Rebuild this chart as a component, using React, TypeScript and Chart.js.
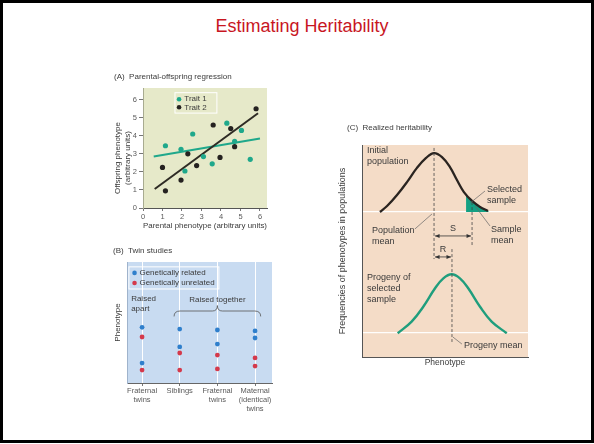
import React, { useEffect, useRef } from "react";
import { Chart, registerables } from "chart.js";

Chart.register(...registerables);

const FONT = "'Liberation Sans', Arial, Helvetica, sans-serif";
Chart.defaults.font.family = FONT;

const TEXT = "#3a3a3a";
const TICK = "#5a5a5a";
const TEAL = "#1fa88b";
const DARK = "#252220";

// (A) parental-offspring regression
const ticksA = [0, 1, 2, 3, 4, 5, 6];
const trait1Parent = [1.15, 1.95, 2.15, 2.55, 3.1, 3.55, 4.3, 4.7, 5.05, 5.5];
const trait1Offspring = [3.45, 3.25, 2.05, 4.1, 2.85, 2.45, 4.7, 3.7, 4.3, 2.7];
const trait2Parent = [1.0, 1.15, 1.95, 2.3, 2.75, 3.6, 3.95, 4.5, 4.7, 5.8];
const trait2Offspring = [2.25, 0.95, 1.55, 3.0, 2.35, 4.6, 2.8, 4.4, 3.4, 5.5];
const trait1FitX = [0.55, 6.0];
const trait1FitY = [2.85, 3.85];
const trait2FitX = [0.6, 5.9];
const trait2FitY = [1.05, 5.25];

// (B) twin studies
const twinGroups = [["Fraternal", "twins"], "Siblings", ["Fraternal", "twins"], ["Maternal", "(identical)", "twins"]];
const relatedFirst = [4.6, 4.46, 4.38, 4.3];
const relatedSecond = [1.65, 2.98, 3.22, 3.72];
const unrelatedFirst = [3.8, 2.48, 2.31, 2.07];
const unrelatedSecond = [1.07, 1.07, 1.16, 1.4];

// (C) realized heritability
const initialX = [10.8, 15.1, 21.1, 27.1, 33.1, 38.6, 43.4, 48.2, 53.0, 57.2, 61.4, 66.3, 71.1, 75.9];
const initialY = [68.4, 71.2, 76.4, 82.5, 89.2, 93.9, 96.2, 94.3, 89.6, 83.5, 77.8, 73.6, 70.8, 68.9];
const selectedX = [62.7, 66.3, 71.1, 75.9, 76.5];
const selectedY = [76.3, 73.6, 70.8, 68.9, 68.4];
const progenyX = [21.5, 29.9, 36.9, 44.0, 49.0, 54.0, 59.0, 64.0, 71.1, 78.1, 87.2];
const progenyY = [11.2, 16.7, 23.7, 32.4, 37.1, 39.0, 37.1, 32.4, 23.7, 16.7, 11.2];
const baselines = [11.3, 68.4];
const populationMean = 43.4;
const sampleMean = 66.3;
const progenyMean = 54.2;

const pts = (xs: number[], ys: number[]) => xs.map((x, i) => ({ x, y: ys[i] }));

type Pt = [number, number];
type Label = {
  t: string[];
  x: number;
  y: number;
  px?: boolean;
  align?: CanvasTextAlign;
  size?: number;
  rot?: boolean;
  lh?: number;
};
type Seg = { pts: Pt[]; dash?: number[]; color?: string; width?: number; heads?: boolean };
type Deco = {
  bg: string;
  labels?: Label[];
  segs?: Seg[];
  boxes?: { x0: number; y0: number; x1: number; y1: number }[];
  dots?: { x: number; y: number; color: string }[];
  brace?: { x0: number; x1: number; bottom: number; top: number; tip: number };
};

function decoPlugin(d: Deco) {
  return {
    id: "deco",
    beforeDraw(chart: Chart) {
      const { ctx, chartArea: a } = chart;
      ctx.save();
      ctx.fillStyle = d.bg;
      ctx.fillRect(a.left, a.top, a.right - a.left, a.bottom - a.top);
      ctx.restore();
    },
    afterDraw(chart: Chart) {
      const { ctx } = chart;
      const X = (v: number) => chart.scales.x.getPixelForValue(v);
      const Y = (v: number) => chart.scales.y.getPixelForValue(v);
      ctx.save();

      for (const b of d.boxes ?? []) {
        ctx.strokeStyle = "#ffffff";
        ctx.lineWidth = 1;
        ctx.strokeRect(X(b.x0), Y(b.y0), X(b.x1) - X(b.x0), Y(b.y1) - Y(b.y0));
      }

      const head = (from: Pt, to: Pt) => {
        const ang = Math.atan2(to[1] - from[1], to[0] - from[0]);
        ctx.beginPath();
        ctx.moveTo(to[0], to[1]);
        ctx.lineTo(to[0] - 4.5 * Math.cos(ang) + 2 * Math.sin(ang), to[1] - 4.5 * Math.sin(ang) - 2 * Math.cos(ang));
        ctx.lineTo(to[0] - 4.5 * Math.cos(ang) - 2 * Math.sin(ang), to[1] - 4.5 * Math.sin(ang) + 2 * Math.cos(ang));
        ctx.closePath();
        ctx.fill();
      };

      for (const s of d.segs ?? []) {
        const p = s.pts.map(([x, y]) => [X(x), Y(y)] as Pt);
        ctx.strokeStyle = s.color ?? "#444";
        ctx.fillStyle = s.color ?? "#444";
        ctx.lineWidth = s.width ?? 0.8;
        ctx.setLineDash(s.dash ?? []);
        ctx.beginPath();
        p.forEach(([x, y], i) => (i ? ctx.lineTo(x, y) : ctx.moveTo(x, y)));
        ctx.stroke();
        ctx.setLineDash([]);
        if (s.heads) {
          head(p[1], p[0]);
          head(p[0], p[1]);
        }
      }

      if (d.brace) {
        const b = d.brace;
        const L = X(b.x0), R = X(b.x1), M = (L + R) / 2;
        const B = Y(b.bottom), T = Y(b.top), Tip = Y(b.tip);
        ctx.strokeStyle = "#555";
        ctx.lineWidth = 0.8;
        ctx.beginPath();
        ctx.moveTo(L, B);
        ctx.quadraticCurveTo(L, T, L + 6, T);
        ctx.lineTo(M - 5, T);
        ctx.quadraticCurveTo(M, T, M, Tip);
        ctx.quadraticCurveTo(M, T, M + 5, T);
        ctx.lineTo(R - 6, T);
        ctx.quadraticCurveTo(R, T, R, B);
        ctx.stroke();
      }

      for (const dot of d.dots ?? []) {
        ctx.fillStyle = dot.color;
        ctx.beginPath();
        ctx.arc(X(dot.x), Y(dot.y), 2.3, 0, Math.PI * 2);
        ctx.fill();
      }

      ctx.fillStyle = TEXT;
      ctx.textBaseline = "middle";
      for (const l of d.labels ?? []) {
        const size = l.size ?? 8;
        const lh = l.lh ?? size * 1.25;
        ctx.font = `${size}px ${FONT}`;
        ctx.textAlign = l.align ?? "left";
        const x = l.px ? l.x : X(l.x);
        const y = l.px ? l.y : Y(l.y);
        ctx.save();
        ctx.translate(x, y);
        if (l.rot) ctx.rotate(-Math.PI / 2);
        l.t.forEach((line, i) => ctx.fillText(line, 0, i * lh));
        ctx.restore();
      }
      ctx.restore();
    },
  };
}

const base = {
  responsive: false,
  maintainAspectRatio: false,
  animation: false as const,
  events: [] as string[],
  plugins: { legend: { display: false }, tooltip: { enabled: false } },
};

function configA() {
  return {
    type: "scatter" as const,
    data: {
      datasets: [
        { data: pts(trait1Parent, trait1Offspring), backgroundColor: TEAL, borderWidth: 0, pointRadius: 2.6 },
        { data: pts(trait2Parent, trait2Offspring), backgroundColor: DARK, borderWidth: 0, pointRadius: 2.6 },
        { data: pts(trait2FitX, trait2FitY), showLine: true, borderColor: "#2e2b24", borderWidth: 2, pointRadius: 0 },
        { data: pts(trait1FitX, trait1FitY), showLine: true, borderColor: TEAL, borderWidth: 2, pointRadius: 0 },
      ],
    },
    options: {
      ...base,
      layout: { padding: { top: 20, right: 13, left: 0, bottom: 0 } },
      scales: {
        x: {
          type: "linear" as const,
          min: 0,
          max: 6.36,
          afterBuildTicks: (s: any) => { s.ticks = ticksA.map((value) => ({ value })); },
          afterFit: (s: any) => { s.height = 25; },
          grid: { drawOnChartArea: false, tickLength: 3, tickColor: "#777" },
          border: { color: "#555", width: 1 },
          ticks: { font: { size: 7.5 }, color: TICK, padding: 1, maxRotation: 0 },
          title: {
            display: true,
            text: "Parental phenotype (arbitrary units)",
            font: { size: 8 },
            color: TEXT,
            padding: { top: 0, bottom: 2 },
          },
        },
        y: {
          min: 0,
          max: 6.65,
          afterBuildTicks: (s: any) => { s.ticks = ticksA.map((value) => ({ value })); },
          afterFit: (s: any) => { s.width = 38; },
          grid: { drawOnChartArea: false, tickLength: 4, tickColor: "#777" },
          border: { color: "#a8ab90", width: 1 },
          ticks: { font: { size: 7.5 }, color: TICK, padding: 2 },
        },
      },
    },
    plugins: [
      decoPlugin({
        bg: "#e6e9c9",
        boxes: [{ x0: 1.64, y0: 6.39, x1: 3.79, y1: 5.26 }],
        dots: [
          { x: 1.85, y: 6.03, color: TEAL },
          { x: 1.85, y: 5.58, color: DARK },
        ],
        labels: [
          { t: ["(A)  Parental-offspring regression"], x: 9, y: 9, px: true },
          { t: ["Trait 1"], x: 2.12, y: 6.03 },
          { t: ["Trait 2"], x: 2.12, y: 5.58 },
          { t: ["Offspring phenotype", "(arbitrary units)"], x: 13, y: 90, px: true, rot: true, align: "center", lh: 9.5 },
        ],
      }),
    ],
  };
}

function configB() {
  const twinX = twinGroups.map((_, i) => i + 1);
  return {
    type: "scatter" as const,
    data: {
      datasets: [
        { data: pts(twinX, relatedFirst), backgroundColor: "#2f7fcc", borderWidth: 0, pointRadius: 2.4 },
        { data: pts(twinX, relatedSecond), backgroundColor: "#2f7fcc", borderWidth: 0, pointRadius: 2.4 },
        { data: pts(twinX, unrelatedFirst), backgroundColor: "#d4394b", borderWidth: 0, pointRadius: 2.4 },
        { data: pts(twinX, unrelatedSecond), backgroundColor: "#d4394b", borderWidth: 0, pointRadius: 2.4 },
      ],
    },
    options: {
      ...base,
      layout: { padding: { top: 24, right: 8, left: 0, bottom: 0 } },
      scales: {
        x: {
          type: "linear" as const,
          min: 0.6,
          max: 4.45,
          afterBuildTicks: (s: any) => { s.ticks = twinX.map((value) => ({ value })); },
          afterFit: (s: any) => { s.height = 45; },
          grid: { color: "#ffffff", lineWidth: 1, tickLength: 3, tickColor: "#777" },
          border: { color: "#666", width: 1 },
          ticks: {
            font: { size: 7.5 },
            color: TICK,
            padding: 0,
            maxRotation: 0,
            callback: (v: number) => twinGroups[Math.round(v) - 1],
          },
        },
        y: {
          min: 0,
          max: 10,
          afterFit: (s: any) => { s.width = 22; },
          grid: { display: false },
          border: { color: "#9fb3cc", width: 1 },
          ticks: { display: false },
          title: { display: true, text: "Phenotype", font: { size: 8 }, color: TEXT, padding: { top: 8, bottom: 0 } },
        },
      },
    },
    plugins: [
      decoPlugin({
        bg: "#c8dbf1",
        boxes: [{ x0: 0.65, y0: 9.6, x1: 3.04, y1: 7.77 }],
        dots: [
          { x: 0.8, y: 9.1, color: "#2f7fcc" },
          { x: 0.8, y: 8.27, color: "#d4394b" },
        ],
        brace: { x0: 1.85, x1: 4.15, bottom: 5.5, top: 5.95, tip: 6.4 },
        labels: [
          { t: ["(B)  Twin studies"], x: 8, y: 13, px: true },
          { t: ["Genetically related"], x: 0.93, y: 9.1 },
          { t: ["Genetically unrelated"], x: 0.93, y: 8.27 },
          { t: ["Raised", "apart"], x: 0.71, y: 6.95, lh: 10 },
          { t: ["Raised together"], x: 3.0, y: 6.9, align: "center" },
        ],
      }),
    ],
  };
}

function configC() {
  const line = { showLine: true, pointRadius: 0, tension: 0.4 };
  return {
    type: "scatter" as const,
    data: {
      datasets: [
        { ...line, data: pts(initialX, initialY), borderColor: "#2a2420", borderWidth: 2.3 },
        { ...line, data: pts(progenyX, progenyY), borderColor: "#1f9e7d", borderWidth: 2.4 },
        {
          ...line,
          data: pts(selectedX, selectedY),
          borderWidth: 0,
          backgroundColor: "#13a083",
          fill: { value: baselines[1] },
        },
      ],
    },
    options: {
      ...base,
      layout: { padding: { top: 27, right: 7, left: 0, bottom: 0 } },
      scales: {
        x: {
          type: "linear" as const,
          min: 0,
          max: 100,
          afterFit: (s: any) => { s.height = 13; },
          grid: { display: false },
          border: { color: "#555", width: 1 },
          ticks: { display: false },
          title: { display: true, text: "Phenotype", font: { size: 8.5 }, color: TEXT, padding: { top: 0, bottom: 2 } },
        },
        y: {
          min: 0,
          max: 100,
          afterBuildTicks: (s: any) => { s.ticks = baselines.map((value) => ({ value })); },
          afterFit: (s: any) => { s.width = 27; },
          grid: { color: "rgba(255,255,255,0.95)", lineWidth: 1.3, drawTicks: false },
          border: { color: "#555", width: 1 },
          ticks: { display: false },
          title: {
            display: true,
            text: "Frequencies of phenotypes in populations",
            font: { size: 9 },
            color: TEXT,
            padding: { top: 2, bottom: 0 },
          },
        },
      },
    },
    plugins: [
      decoPlugin({
        bg: "#f4dcc7",
        segs: [
          { pts: [[populationMean, 98.6], [populationMean, 46.2]], dash: [3, 2] },
          { pts: [[sampleMean, 73.1], [sampleMean, 52.4]], dash: [3, 2] },
          { pts: [[progenyMean, 50.9], [progenyMean, 7.1]], dash: [3, 2] },
          { pts: [[populationMean + 0.6, 57.1], [sampleMean - 0.6, 57.1]], heads: true, color: "#333" },
          { pts: [[populationMean + 0.6, 47.2], [progenyMean - 0.6, 47.2]], heads: true, color: "#333" },
          { pts: [[31.9, 60.4], [42.2, 67.5]], color: "#666", width: 0.7 },
          { pts: [[65.1, 72.6], [74.1, 78.3]], color: "#666", width: 0.7 },
          { pts: [[68.1, 71.2], [77.1, 61.8]], color: "#666", width: 0.7 },
          { pts: [[54.8, 9.4], [60.2, 6.1]], color: "#666", width: 0.7 },
        ],
        labels: [
          { t: ["(C)  Realized heritability"], x: 12, y: 10, px: true },
          { t: ["Initial", "population"], x: 3, y: 97.6, size: 9, lh: 11 },
          { t: ["Selected", "sample"], x: 75.3, y: 78.8, size: 9, lh: 11 },
          { t: ["Population", "mean"], x: 6, y: 59.6, size: 9, lh: 10.5 },
          { t: ["Sample", "mean"], x: 77.7, y: 59.9, size: 9, lh: 10.5 },
          { t: ["S"], x: 54.8, y: 60.6, size: 9, align: "center" },
          { t: ["R"], x: 48.8, y: 50.6, size: 9, align: "center" },
          { t: ["Progeny of", "selected", "sample"], x: 3, y: 37.3, size: 9, lh: 11 },
          { t: ["Progeny mean"], x: 61.4, y: 5.6, size: 9 },
        ],
      }),
    ],
  };
}

function Panel({ left, top, width, height, make }: { left: number; top: number; width: number; height: number; make: () => any }) {
  const ref = useRef<HTMLCanvasElement | null>(null);

  useEffect(() => {
    if (!ref.current) return;
    const chart = new Chart(ref.current, make());
    return () => {
      chart.destroy();
    };
  }, []);

  return (
    <canvas
      ref={ref}
      width={width}
      height={height}
      style={{ position: "absolute", left, top, width, height }}
    ></canvas>
  );
}

export default function App() {
  return (
    <div
      style={{
        position: "absolute",
        left: 0,
        top: 0,
        width: 594,
        height: 444,
        background: "#fff",
        overflow: "hidden",
      }}
    >
      <div
        style={{
          position: "absolute",
          left: 0,
          top: 15,
          width: 604,
          textAlign: "center",
          font: `18px ${FONT}`,
          lineHeight: "22px",
          color: "#c8161f",
        }}
      >
        Estimating Heritability
      </div>
      <Panel left={105} top={68} width={175} height={165} make={configA} />
      <Panel left={105} top={238} width={175} height={190} make={configB} />
      <Panel left={335} top={118} width={200} height={252} make={configC} />
      <div
        style={{
          position: "absolute",
          left: 0,
          top: 0,
          width: 594,
          height: 443,
          boxSizing: "border-box",
          border: "3px solid #000",
          pointerEvents: "none",
        }}
      ></div>
    </div>
  );
}
